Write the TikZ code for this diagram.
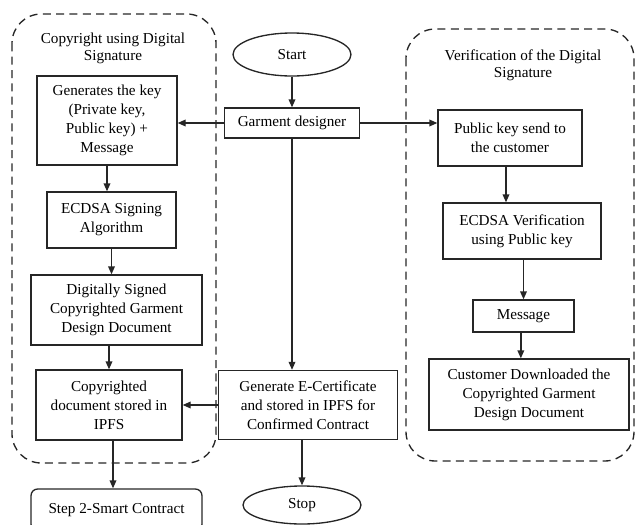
\documentclass[tikz,border=0pt]{standalone}
\usepackage{fontspec}
\setmainfont{Liberation Serif}
\usepackage{tikz}
\usetikzlibrary{arrows.meta, shapes.geometric}
\colorlet{myline}{black!85}

\begin{document}
\begin{tikzpicture}[x=0.75pt, y=-0.75pt, >={Triangle[length=6pt,width=5pt]},
    font=\fontsize{11.4}{14.2}\selectfont,
    stepbox/.style={draw=myline, line width=1pt, align=center, inner sep=2pt},
    terminal/.style={draw=myline, line width=1pt, ellipse, inner sep=1pt},
    group/.style={draw=myline, line width=1pt, dashed, dash pattern=on 6pt off 4pt, rounded corners=22pt},
    flow/.style={->, line width=1pt, myline}]

    \useasboundingbox (0,0) rectangle (636,525);

    % ===== GROUPS =====
    \draw[group] (12,14) rectangle (216,463);
    \draw[group] (406,29) rectangle (634,461);
    \node[align=center, font=\fontsize{11.4}{12.9}\selectfont] (lefttitle) at (113,48.5) {Copyright using Digital\\Signature};
    \node[align=center, font=\fontsize{11.4}{12.9}\selectfont] (righttitle) at (523,65.5) {Verification of the Digital\\Signature};

    % ===== MAIN COLUMN =====
    \node[terminal, minimum width=88.5pt, minimum height=32.25pt] (start) at (292,54.5) {Start};
    \node[stepbox, minimum width=101.25pt, minimum height=22.5pt] (designer) at (292,123) {Garment designer};
    \node[stepbox, minimum width=134.25pt, minimum height=51.75pt] (ecert) at (308,405) {Generate E-Certificate\\and stored in IPFS for\\Confirmed Contract};
    \node[terminal, minimum width=88.5pt, minimum height=28.5pt] (stop) at (302,505) {Stop};

    % ===== LEFT COLUMN =====
    \node[stepbox, minimum width=105pt, minimum height=66.75pt] (keygen) at (107,120.5) {Generates the key\\(Private key,\\Public key) +\\Message};
    \node[stepbox, minimum width=96.75pt, minimum height=42pt] (signing) at (111.5,220) {ECDSA Signing\\Algorithm};
    \node[stepbox, minimum width=128.25pt, minimum height=52.5pt] (signed) at (116.5,310) {Digitally Signed\\Copyrighted Garment\\Design Document};
    \node[stepbox, minimum width=109.5pt, minimum height=52.5pt] (stored) at (109,405) {Copyrighted\\document stored in\\IPFS};
    \node[stepbox, rounded corners=5pt, minimum width=128.25pt, minimum height=31.5pt] (smart) at (116.5,510) {Step 2-Smart Contract};

    % ===== RIGHT COLUMN =====
    \node[stepbox, minimum width=108pt, minimum height=42pt] (pubkey) at (510,138) {Public key send to\\the customer};
    \node[stepbox, minimum width=118.5pt, minimum height=42pt] (verify) at (522,231) {ECDSA Verification\\using Public key};
    \node[stepbox, minimum width=75.75pt, minimum height=24pt] (message) at (523.5,316) {Message};
    \node[stepbox, minimum width=150pt, minimum height=53.25pt] (download) at (529,394.5) {Customer Downloaded the\\Copyrighted Garment\\Design Document};

    % ===== CONNECTORS =====
    \draw[flow] (start) -- (designer);
    \draw[flow] (designer.west) -- (designer.west -| keygen.east);
    \draw[flow] (designer.east) -- (designer.east -| pubkey.west);
    \draw[flow] (designer.south) -- (designer.south |- ecert.north);
    \draw[flow] (stop.north |- ecert.south) -- (stop.north);
    \draw[flow] (ecert.west) -- (ecert.west -| stored.east);
    \draw[flow] (keygen.south) -- (keygen.south |- signing.north);
    \draw[flow] (signing.south) -- (signing.south |- signed.north);
    \draw[flow] (stored.north |- signed.south) -- (stored.north);
    \draw[flow] ([xshift=3pt]stored.south) -- ([xshift=3pt]stored.south |- smart.north);
    \draw[flow] ([xshift=-3pt]pubkey.south) -- ([xshift=-3pt]pubkey.south |- verify.north);
    \draw[flow] (message.north |- verify.south) -- (message.north);
    \draw[flow] ([xshift=-2pt]message.south) -- ([xshift=-2pt]message.south |- download.north);

\end{tikzpicture}
\end{document}
